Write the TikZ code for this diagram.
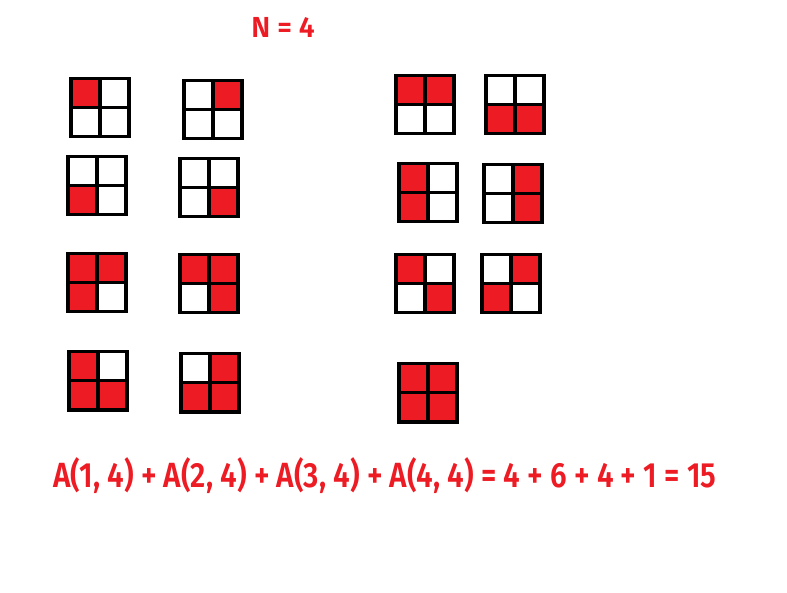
\documentclass[tikz,border=0pt]{standalone}
\usepackage{fontspec}
\setmainfont{Fira Sans}
\newfontfamily\eqfont[FakeStretch=0.85]{Fira Sans SemiBold}
\newfontfamily\ttlfont[FakeStretch=0.98]{Fira Sans SemiBold}
\usetikzlibrary{positioning}
\definecolor{paintred}{HTML}{ED1C24}
\tikzset{
    cell/.style = {rectangle, draw=black, line width=3.5pt, minimum size=29pt, inner sep=0pt, fill=white},
    title/.style = {text=paintred, font=\ttlfont\fontsize{29}{32}\selectfont, inner sep=0pt},
    sum/.style = {text=paintred, font=\eqfont\fontsize{35}{40}\selectfont, inner sep=0pt}
}
% one 2x2 board: name, left, top, then fills of the four cells
\newcommand{\sq}[7]{%
  \node[cell,fill=#4] (#1tl) at (#2+16.25,#3+16.25) {};
  \node[cell,fill=#5] (#1tr) at (#2+45.25,#3+16.25) {};
  \node[cell,fill=#6] (#1bl) at (#2+16.25,#3+45.25) {};
  \node[cell,fill=#7] (#1br) at (#2+45.25,#3+45.25) {};
}
\newcommand{\R}{paintred}
\newcommand{\W}{white}

\begin{document}
\begin{tikzpicture}[x=1pt,y=-1pt]
\useasboundingbox[fill=white] (0,0) rectangle (787,593);
\node[title, anchor=base] at (283,38) (n) {N = 4};
%
\sq{a}{69}{77}{\R}{\W}{\W}{\W}
\sq{b}{182}{79}{\W}{\R}{\W}{\W}
\sq{c}{66}{155}{\W}{\W}{\R}{\W}
\sq{d}{178}{157}{\W}{\W}{\W}{\R}
\sq{e}{66}{252}{\R}{\R}{\R}{\W}
\sq{f}{178}{253}{\R}{\R}{\W}{\R}
\sq{g}{67}{350}{\R}{\W}{\R}{\R}
\sq{h}{179}{352}{\W}{\R}{\R}{\R}
%
\sq{i}{394}{74}{\R}{\R}{\W}{\W}
\sq{j}{484}{74}{\W}{\W}{\R}{\R}
\sq{k}{397}{162}{\R}{\W}{\R}{\W}
\sq{l}{482}{163}{\W}{\R}{\W}{\R}
\sq{m}{394}{253}{\R}{\W}{\W}{\R}
\sq{p}{480}{253}{\W}{\R}{\R}{\W}
\sq{o}{397}{362}{\R}{\R}{\R}{\R}
%
\node[sum, anchor=base west] at (53,487) (s) {A(1, 4) + A(2, 4) + A(3, 4) + A(4, 4) = 4 + 6 + 4 + 1 = 15};
\end{tikzpicture}
\end{document}
